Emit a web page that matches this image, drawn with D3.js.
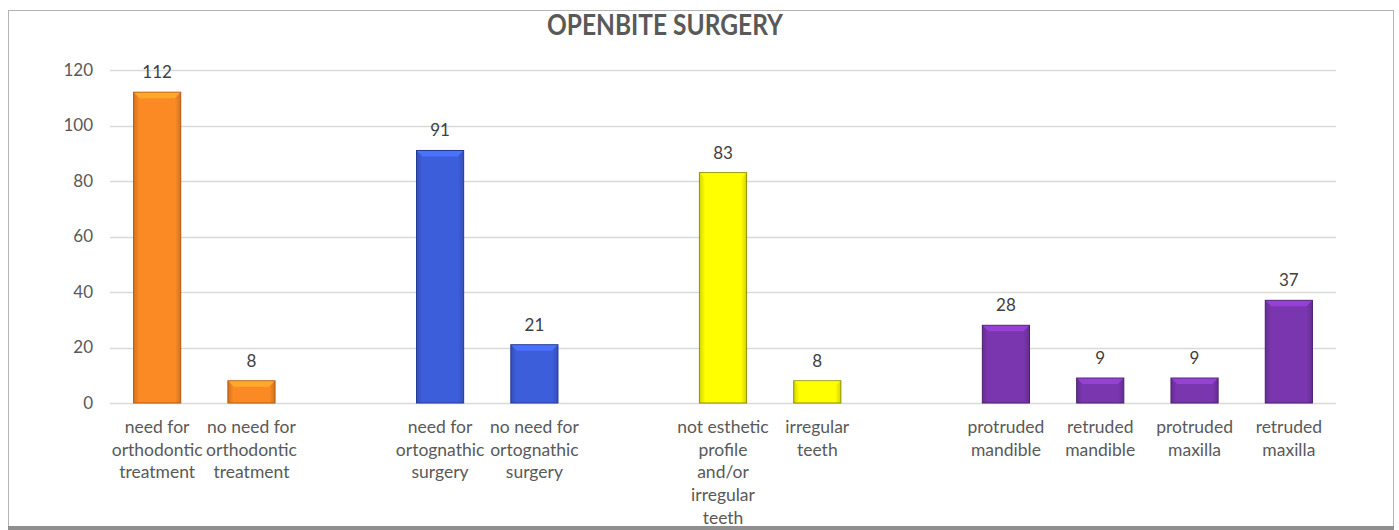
<!DOCTYPE html>
<html><head><meta charset="utf-8">
<script src="https://cdn.jsdelivr.net/npm/d3@7"></script>
<style>html,body{margin:0;padding:0;background:#fff;}svg{display:block;}</style>
</head><body>
<svg id="chart" width="1399" height="530"></svg>
<script>
const title = "OPENBITE SURGERY";
const categories = [
  "need for\northodontic\ntreatment",
  "no need for\northodontic\ntreatment",
  "",
  "need for\nortognathic\nsurgery",
  "no need for\nortognathic\nsurgery",
  "",
  "not esthetic\nprofile\nand/or\nirregular\nteeth",
  "irregular\nteeth",
  "",
  "protruded\nmandible",
  "retruded\nmandible",
  "protruded\nmaxilla",
  "retruded\nmaxilla"
];
const values = [112, 8, null, 91, 21, null, 83, 8, null, 28, 9, 9, 37];
const groups = [0, 0, null, 1, 1, null, 2, 2, null, 3, 3, 3, 3];
const groupColors = ["#FB8A24", "#3D5EDB", "#FFFF00", "#7A36AE"];
const groupEdges = ["#B55A0E", "#223A95", "#8F8F00", "#4A1F6E"];
const yTicks = [0, 20, 40, 60, 80, 100, 120];

const svg = d3.select("#chart");
const FONT = "Lato, 'Open Sans', sans-serif";
const TXT = "#595959";

// frame
svg.append("rect").attr("x", 8.5).attr("y", 10.5).attr("width", 1385).attr("height", 516)
  .attr("fill", "#fff").attr("stroke", "#b4b4b4").attr("stroke-width", 1);
svg.append("rect").attr("x", 8).attr("y", 526).attr("width", 1386).attr("height", 4).attr("fill", "#8f8f8f");

const slots = categories.map((d, i) => "s" + i);
const x = d3.scaleBand().domain(slots).range([110, 1336]).paddingInner(0.5).paddingOuter(0.25);
const y = d3.scaleLinear().domain([0, 120]).range([403, 70]);

// gridlines
svg.append("g").selectAll("line").data(yTicks).join("line")
  .attr("x1", 110).attr("x2", 1336)
  .attr("y1", d => Math.round(y(d)) + 0.5).attr("y2", d => Math.round(y(d)) + 0.5)
  .attr("stroke", "#d9d9d9").attr("stroke-width", 1.5);

// y axis labels
const yAxis = d3.axisLeft(y).tickValues(yTicks).tickSize(0).tickPadding(0);
const ga = svg.append("g").attr("transform", "translate(93,0)").call(yAxis);
ga.select(".domain").remove();
ga.selectAll("text").attr("font-family", FONT).attr("font-size", 17).attr("fill", TXT);

// gradients
const defs = svg.append("defs");
groupColors.forEach((c, i) => {
  const g = defs.append("linearGradient").attr("id", "hg" + i).attr("x1", 0).attr("x2", 1).attr("y1", 0).attr("y2", 0);
  const dark = d3.color(c).darker(0.5);
  g.append("stop").attr("offset", "0%").attr("stop-color", dark);
  g.append("stop").attr("offset", "12%").attr("stop-color", c);
  g.append("stop").attr("offset", "88%").attr("stop-color", c);
  g.append("stop").attr("offset", "100%").attr("stop-color", dark);
});

const data = values.map((v, i) => ({key: slots[i], v, g: groups[i], label: categories[i]})).filter(d => d.v != null);
const bw = x.bandwidth();

const bars = svg.append("g").selectAll("g").data(data).join("g");
bars.append("rect")
  .attr("x", d => x(d.key)).attr("y", d => y(d.v))
  .attr("width", bw).attr("height", d => y(0) - y(d.v))
  .attr("fill", d => `url(#hg${d.g})`)
  .attr("stroke", d => groupEdges[d.g]).attr("stroke-width", 1);
// top bevel
bars.append("path")
  .attr("d", d => {
    const x0 = x(d.key), y0 = y(d.v), b = 6;
    return `M${x0 + 0.5},${y0 + 0.5}L${x0 + bw - 0.5},${y0 + 0.5}L${x0 + bw - b},${y0 + b}L${x0 + b},${y0 + b}Z`;
  })
  .attr("fill", d => d3.color(groupColors[d.g]).brighter(0.6)).attr("opacity", 0.9);

// value labels
svg.append("g").selectAll("text").data(data).join("text")
  .attr("x", d => x(d.key) + bw / 2).attr("y", d => y(d.v) - 14)
  .attr("text-anchor", "middle").attr("font-family", FONT).attr("font-size", 17).attr("fill", "#404040")
  .text(d => d.v);

// category labels
const xl = svg.append("g").selectAll("text").data(data).join("text")
  .attr("text-anchor", "middle").attr("font-family", FONT).attr("font-size", 17.5).attr("fill", TXT)
  .attr("transform", d => `translate(${x(d.key) + bw / 2},433)`);
xl.selectAll("tspan").data(d => d.label.split("\n")).join("tspan")
  .attr("x", 0).attr("y", (d, i) => i * 22.7).text(d => d);

// title
svg.append("text").attr("x", 665).attr("y", 35).attr("text-anchor", "middle")
  .attr("font-family", FONT).attr("font-weight", "bold").attr("font-size", 28).attr("fill", TXT)
  .attr("textLength", 236).attr("lengthAdjust", "spacingAndGlyphs")
  .text(title);
</script>
</body></html>
